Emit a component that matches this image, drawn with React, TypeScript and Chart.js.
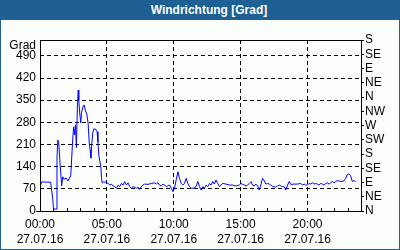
import React, { useEffect, useRef } from "react";
import { Chart, registerables } from "chart.js";

Chart.register(...registerables);

const chartTitle = "Windrichtung [Grad]";
const yUnitLabel = "Grad";
const dateLabel = "27.07.16";

const hours = [
  0.05, 0.12, 0.2, 0.5, 0.8, 0.85, 0.95, 1.0, 1.05, 1.2, 1.27, 1.33, 1.4, 1.5, 1.62, 1.7, 1.8, 1.95, 2.1, 2.3,
  2.45, 2.52, 2.6, 2.66, 2.72, 2.8, 2.86, 2.9, 2.97, 3.05, 3.1, 3.2, 3.3, 3.4, 3.5, 3.6, 3.68, 3.75, 3.8, 3.86,
  3.94, 4.02, 4.15, 4.27, 4.33, 4.4, 4.55, 4.6, 4.65, 4.75, 4.9, 5.09, 5.22, 5.34, 5.46, 5.59, 5.71, 5.84, 5.96, 6.09,
  6.21, 6.33, 6.46, 6.58, 6.71, 6.83, 6.95, 7.08, 7.2, 7.33, 7.45, 7.57, 7.7, 7.82, 8.07, 8.32, 8.57, 8.69, 8.82, 8.94,
  9.07, 9.19, 9.31, 9.44, 9.69, 9.81, 9.94, 10.06, 10.18, 10.31, 10.43, 10.56, 10.68, 10.8, 10.93, 11.05, 11.18, 11.3, 11.55, 11.68,
  11.8, 11.92, 12.05, 12.17, 12.3, 12.42, 12.54, 12.67, 12.79, 12.92, 13.04, 13.16, 13.29, 13.41, 13.53, 13.66, 13.91, 14.16, 14.4, 14.65,
  14.9, 15.03, 15.15, 15.28, 15.4, 15.52, 15.65, 15.77, 15.9, 16.02, 16.14, 16.27, 16.39, 16.51, 16.64, 16.76, 16.89, 17.01, 17.14, 17.26,
  17.39, 17.51, 17.63, 17.76, 17.88, 18.01, 18.13, 18.26, 18.38, 18.51, 18.63, 18.75, 19.0, 19.25, 19.5, 19.62, 19.75, 19.87, 20.0, 20.12,
  20.24, 20.37, 20.49, 20.61, 20.74, 20.86, 20.99, 21.11, 21.24, 21.36, 21.48, 21.61, 21.73, 21.86, 21.98, 22.11, 22.23, 22.35, 22.48, 22.73,
  22.85, 22.97, 23.1, 23.22, 23.35, 23.47, 23.6,
];

const directionDeg = [
  82, 92, 92, 91, 91, 73, 40, 10, 6, 6, 167, 224, 215, 150, 80, 108, 100, 104, 95, 112,
  230, 266, 240, 272, 200, 335, 382, 350, 309, 278, 310, 328, 335, 316, 306, 276, 215, 192, 167, 205,
  246, 259, 259, 250, 218, 175, 139, 104, 88, 92, 91, 87, 82, 85, 79, 77, 72, 82, 77, 87,
  82, 93, 82, 89, 77, 72, 77, 75, 72, 75, 68, 77, 82, 85, 84, 87, 89, 85, 89, 82,
  79, 85, 82, 77, 82, 72, 61, 72, 98, 124, 103, 87, 82, 87, 103, 87, 77, 72, 72, 79,
  93, 77, 66, 77, 72, 82, 77, 87, 82, 93, 85, 98, 87, 77, 82, 87, 85, 82, 82, 79,
  82, 87, 84, 82, 79, 82, 87, 93, 82, 79, 85, 79, 66, 82, 103, 96, 85, 87, 85, 82,
  77, 77, 75, 79, 82, 79, 77, 77, 66, 82, 93, 84, 85, 85, 87, 82, 85, 82, 82, 87,
  85, 89, 85, 87, 85, 82, 87, 85, 82, 87, 89, 85, 89, 93, 89, 93, 96, 95, 93, 95,
  103, 114, 117, 112, 93, 96, 93,
];

const leftTicks = [0, 70, 140, 210, 280, 350, 420, 490];
const rightTicks = [0, 45, 90, 135, 180, 225, 270, 315, 360, 405, 450, 495, 540];
const compassLabels = ["N", "NE", "E", "SE", "S", "SW", "W", "NW", "N", "NE", "E", "SE", "S"];
const hourTicks = [0, 1, 2, 3, 4, 5, 6, 7, 8, 9, 10, 11, 12, 13, 14, 15, 16, 17, 18, 19, 20, 21, 22, 23, 24];
const labelHours = [0, 5, 10, 15, 20];
const timeLabels = ["00:00", "05:00", "10:00", "15:00", "20:00"];

const FONT = '"Liberation Sans", Arial, sans-serif';

const framePlugin = {
  id: "frame",
  afterDraw(chart: any) {
    const { ctx, chartArea, scales } = chart;
    const { left, top, right, bottom } = chartArea;
    ctx.save();
    ctx.setLineDash([]);
    ctx.strokeStyle = "#000";
    ctx.lineWidth = 1;
    ctx.strokeRect(left + 0.5, top + 0.5, right - left, bottom - top);
    ctx.beginPath();
    ctx.moveTo(left - 4, bottom + 0.5);
    ctx.lineTo(left, bottom + 0.5);
    for (const h of hourTicks) {
      if (h === 0 || h === 24 || h % 5 === 0) continue;
      const x = Math.round(scales.x.getPixelForValue(h)) + 0.5;
      ctx.moveTo(x, bottom);
      ctx.lineTo(x, bottom - 3);
    }
    ctx.stroke();
    ctx.fillStyle = "#000";
    ctx.font = "12px " + FONT;
    ctx.textAlign = "right";
    ctx.textBaseline = "middle";
    ctx.fillText(yUnitLabel, left - 4, scales.y.getPixelForValue(540) + 6);
    ctx.restore();
  },
};

function WindChart() {
  const ref = useRef<HTMLCanvasElement>(null);
  useEffect(() => {
    if (!ref.current) return;
    const chart = new Chart(ref.current, {
      type: "line",
      data: {
        datasets: [
          {
            data: hours.map((h, i) => ({ x: h, y: directionDeg[i] })),
            borderColor: "#0000ff",
            borderWidth: 1,
            pointRadius: 0,
            tension: 0,
            fill: false,
          },
        ],
      },
      options: {
        animation: false,
        responsive: false,
        maintainAspectRatio: false,
        layout: { padding: { top: 20, left: 0, right: 0, bottom: 0 } },
        plugins: { legend: { display: false }, tooltip: { enabled: false }, title: { display: false } },
        scales: {
          x: {
            type: "linear",
            min: 0,
            max: 24,
            afterBuildTicks: (s: any) => {
              s.ticks = hourTicks.map((v) => ({ value: v }));
            },
            afterFit: (s: any) => {
              s.height = 38;
            },
            ticks: {
              autoSkip: false,
              maxRotation: 0,
              minRotation: 0,
              padding: 6,
              color: "#000",
              font: { family: FONT, size: 12, lineHeight: 1.25 },
              callback: (v: any) => {
                const i = labelHours.indexOf(Number(v));
                return i >= 0 ? [timeLabels[i], dateLabel] : "";
              },
            },
            grid: {
              drawTicks: false,
              color: (c: any) => {
                const v = c.tick ? c.tick.value : 0;
                return v > 0 && v < 24 && v % 5 === 0 ? "#000" : "rgba(0,0,0,0)";
              },
            },
            border: { display: false, dash: [4, 3] },
          },
          y: {
            type: "linear",
            position: "left",
            min: 0,
            max: 540,
            afterBuildTicks: (s: any) => {
              s.ticks = leftTicks.map((v) => ({ value: v }));
            },
            afterFit: (s: any) => {
              s.width = 39;
            },
            ticks: {
              autoSkip: false,
              padding: 4,
              color: "#000",
              font: { family: FONT, size: 12 },
              callback: (v: any) => String(v),
            },
            grid: {
              drawTicks: false,
              color: (c: any) => (c.tick && c.tick.value > 0 ? "#000" : "rgba(0,0,0,0)"),
            },
            border: { display: false, dash: [4, 3] },
          },
          y2: {
            type: "linear",
            position: "right",
            min: 0,
            max: 540,
            afterBuildTicks: (s: any) => {
              s.ticks = rightTicks.map((v) => ({ value: v }));
            },
            afterFit: (s: any) => {
              s.width = 38;
            },
            ticks: {
              autoSkip: false,
              padding: 1,
              color: "#000",
              font: { family: FONT, size: 12 },
              callback: (v: any) => {
                const i = rightTicks.indexOf(Number(v));
                return i >= 0 ? compassLabels[i] : "";
              },
            },
            grid: {
              drawOnChartArea: false,
              drawTicks: true,
              tickLength: 3,
              color: "#000",
            },
            border: { display: false },
          },
        },
      },
      plugins: [framePlugin],
    } as any);
    return () => chart.destroy();
  }, []);
  return <canvas ref={ref} width={398} height={229} style={{ display: "block", width: 398, height: 229 }} />;
}

export default function App() {
  useEffect(() => {
    document.body.style.margin = "0";
  }, []);
  return (
    <div
      style={{
        width: 400,
        height: 250,
        boxSizing: "border-box",
        border: "1px solid #1e5f94",
        background: "#fcfefc",
        overflow: "hidden",
      }}
    >
      <div
        style={{
          height: 19,
          background: "#1e5f94",
          color: "#fff",
          font: "bold 12px " + FONT,
          lineHeight: "19px",
          textAlign: "center",
          paddingLeft: 18,
          whiteSpace: "nowrap",
        }}
      >
        {chartTitle}
      </div>
      <WindChart />
    </div>
  );
}
